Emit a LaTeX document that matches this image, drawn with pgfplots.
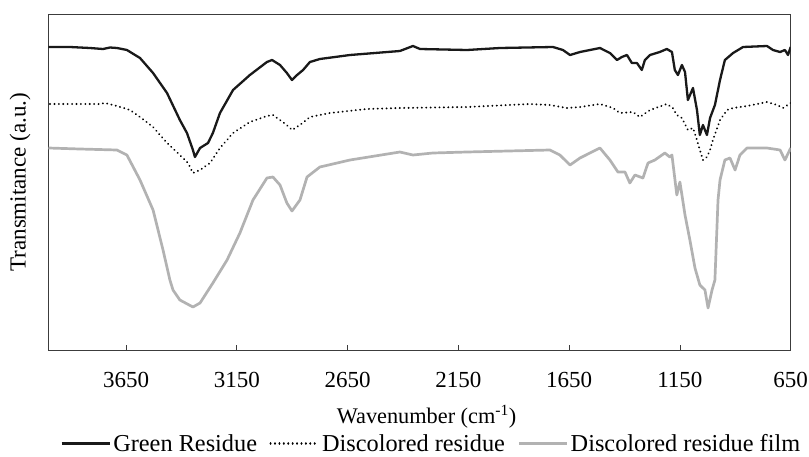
\documentclass[border=0pt]{standalone}
\usepackage{pgfplots}
\pgfplotsset{compat=1.18}
\usepackage{fontspec}
\setmainfont{Liberation Serif}
\definecolor{filmgray}{RGB}{178,178,178}
\definecolor{axgray}{RGB}{60,60,60}
\newcommand{\lbl}{\fontsize{23}{27}\selectfont}
\newcommand{\xlbl}{\fontsize{22.3}{26}\selectfont}
\newcommand{\lgd}{\fontsize{24.3}{28}\selectfont}
\begin{document}
\begin{tikzpicture}
\useasboundingbox (-48.5pt,-105.5pt) rectangle (760.5pt,350.5pt);
\begin{axis}[
  scale only axis,
  width=742.2pt, height=336.5pt,
  x dir=reverse,
  xmin=650, xmax=4000,
  ymin=0, ymax=336.5,
  axis line style={axgray, line width=0.9pt},
  xtick={650,1150,1650,2150,2650,3150,3650},
  xticklabels={650,1150,1650,2150,2650,3150,3650},
  ytick=\empty,
  xtick pos=bottom,
  tick align=inside,
  major tick length=6pt,
  tick style={axgray, line width=0.8pt},
  xticklabel style={font=\lbl, anchor=base, yshift=-36.5pt},
  xlabel={Wavenumber (cm\textsuperscript{-1})},
  xlabel style={font=\xlbl, at={([xshift=7pt,yshift=-72.5pt]axis description cs:0.5,0)}, anchor=base},
  ylabel={Transmitance (a.u.)},
  ylabel style={font=\lbl, at={([xshift=-28.5pt]axis description cs:0,0.5)}, anchor=center, rotate=0},
  legend columns=3,
  legend style={draw=none, fill=none, font=\lgd,
    at={([xshift=12pt,yshift=-93pt]axis description cs:0.5,0)}, anchor=center,
    /tikz/every even column/.append style={column sep=10pt},
    nodes={inner sep=2.5pt},
    inner sep=0pt},
  legend image code/.code={\draw[#1] (0pt,0pt) -- (48pt,0pt);},
  every axis plot/.append style={line join=round},
]
\addplot[black!90, line width=2.3pt] coordinates {
(4000,303.5) (3903,303.5) (3813,302.5) (3754,301.5) (3722,303) (3691,302.5)
(3646,300.5) (3587,292.5) (3528,277.5) (3465,257.5) (3407,230.5) (3375,217.5)
(3348,200.5) (3339,193.5) (3316,202.5) (3280,207.5) (3258,217.5) (3226,237.5)
(3167,260.5) (3091,275.5) (3014,288.5) (2991,290.5) (2955,285.5) (2924,277.5)
(2901,270.5) (2878,275.5) (2851,280.5) (2820,288.5) (2775,291.5) (2639,295.5)
(2414,299.5) (2355,304.5) (2323,301.5) (2111,300.5) (1962,302.5) (1723,303.5)
(1678,300.5) (1646,295.5) (1601,298.5) (1511,302.5) (1466,297.5) (1434,290.5)
(1412,293.5) (1389,295.5) (1367,287.5) (1344,287.5) (1322,280.5) (1308,290.5)
(1285,295.5) (1241,298.5) (1209,301.5) (1186,298.5) (1173,280.5) (1159,275.5)
(1141,285.5) (1127,278.5) (1114,250.5) (1091,262.5) (1073,240.5) (1060,215.5)
(1046,225.5) (1028,215.5) (1014,232.5) (992,245.5) (969,270.5) (947,290.5)
(910,297.5) (865,303.5) (757,304.5) (730,300.5) (698,298.5) (676,300.5)
(662,295.5) (650,303.5)
};
\addlegendentry{Green Residue}
\addplot[black, line width=2.1pt, line cap=round, dash pattern=on 0.01pt off 4.4pt] coordinates {
(3993,246.5) (3768,246.5) (3745,247.5) (3691,244.5) (3632,240.5) (3587,233.5)
(3528,223.5) (3465,207.5) (3407,195.5) (3370,187.5) (3348,177.5) (3316,180.5)
(3271,187.5) (3226,202.5) (3167,217.5) (3091,228.5) (3014,234.5) (2987,235.5)
(2924,225.5) (2901,220.5) (2865,225.5) (2820,233.5) (2730,237.5) (2563,241.5)
(2414,242.5) (2111,243.5) (1827,246.5) (1737,245.5) (1660,242.5) (1601,243.5)
(1511,246.5) (1452,242.5) (1421,237.5) (1362,238.5) (1331,233.5) (1285,240.5)
(1209,246.5) (1182,242.5) (1164,235.5) (1141,232.5) (1114,220.5) (1091,222.5)
(1073,210.5) (1060,200.5) (1046,190.5) (1028,193.5) (1014,200.5) (1001,210.5)
(969,230.5) (937,240.5) (910,242.5) (847,244.5) (757,248.5) (712,245.5)
(685,242.5) (650,247.5)
};
\addlegendentry{Discolored residue}
\addplot[filmgray, line width=2.7pt] coordinates {
(4000,202.5) (3858,201.5) (3691,200.5) (3646,195.5) (3587,170.5) (3528,140.5)
(3483,100.5) (3452,70.5) (3438,60.5) (3407,50.5) (3348,43.5) (3316,47.5)
(3258,67.5) (3194,90.5) (3136,117.5) (3077,150.5) (3014,172.5) (2987,173.5)
(2955,165.5) (2924,147.5) (2901,139.5) (2865,150.5) (2833,173.5) (2775,183.5)
(2639,190.5) (2414,198.5) (2355,195.5) (2265,197.5) (2111,198.5) (1737,200.5)
(1692,195.5) (1646,185.5) (1601,192.5) (1511,202.5) (1466,190.5) (1430,178.5)
(1398,178.5) (1376,167.5) (1353,175.5) (1317,172.5) (1294,187.5) (1263,190.5)
(1218,197.5) (1196,193.5) (1186,195.5) (1164,155.5) (1150,168.5) (1127,135.5)
(1105,110.5) (1082,82.5) (1060,65.5) (1037,60.5) (1023,42.5) (1005,60.5)
(992,70.5) (978,150.5) (969,170.5) (947,190.5) (924,192.5) (901,180.5)
(879,195.5) (847,202.5) (757,202.5) (698,200.5) (676,190.5) (650,202.5)
};
\addlegendentry{Discolored residue film}
\end{axis}
\end{tikzpicture}
\end{document}
